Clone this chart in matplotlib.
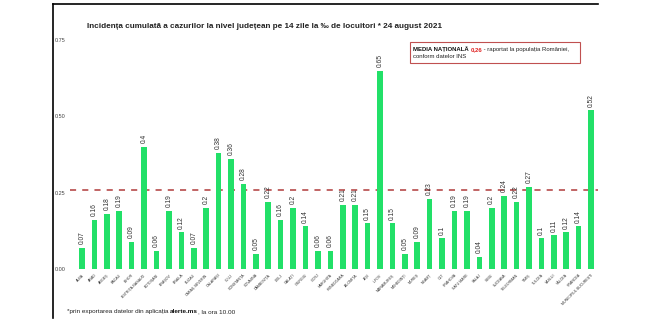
import matplotlib.pyplot as plt
import numpy as np
from matplotlib.lines import Line2D
from matplotlib.patches import Rectangle

counties = ['ALBA', 'ARAD', 'ARGEȘ', 'BACĂU', 'BIHOR', 'BISTRIȚA-NĂSĂUD', 'BOTOȘANI',
            'BRAȘOV', 'BRĂILA', 'BUZĂU', 'CARAȘ-SEVERIN', 'CĂLĂRAȘI', 'CLUJ', 'CONSTANȚA',
            'COVASNA', 'DÂMBOVIȚA', 'DOLJ', 'GALAȚI', 'GIURGIU', 'GORJ', 'HARGHITA',
            'HUNEDOARA', 'IALOMIȚA', 'IAȘI', 'ILFOV', 'MARAMUREȘ', 'MEHEDINȚI', 'MUREȘ',
            'NEAMȚ', 'OLT', 'PRAHOVA', 'SATU MARE', 'SĂLAJ', 'SIBIU', 'SUCEAVA',
            'TELEORMAN', 'TIMIȘ', 'TULCEA', 'VASLUI', 'VÂLCEA', 'VRANCEA',
            'MUNICIPIUL BUCUREȘTI']
incidence = [0.07, 0.16, 0.18, 0.19, 0.09, 0.4, 0.06,
             0.19, 0.12, 0.07, 0.2, 0.38, 0.36, 0.28,
             0.05, 0.22, 0.16, 0.2, 0.14, 0.06, 0.06,
             0.21, 0.21, 0.15, 0.65, 0.15, 0.05, 0.09,
             0.23, 0.1, 0.19, 0.19, 0.04, 0.2, 0.24,
             0.22, 0.27, 0.1, 0.11, 0.12, 0.14,
             0.52]
media_nationala = 0.26
yticks = [0.0, 0.25, 0.5, 0.75]

W, H = 659, 334
FONT = 'Liberation Sans'
fig = plt.figure(figsize=(6.59, 3.34), dpi=100)
fig.patch.set_facecolor('white')

# axes placed in pixel terms of the reference
ax = fig.add_axes([70 / W, 65 / H, (598 - 70) / W, (294 - 65) / H])
x = np.arange(len(counties))
ax.bar(x, incidence, width=0.45, color='#22e068', zorder=2)

for xi, v in zip(x, incidence):
    ax.text(xi, v + 0.012, f'{v:g}', rotation=90, ha='center', va='bottom',
            fontsize=4.8, color='#333333', family=FONT, zorder=3)

ax.axhline(media_nationala, color='#b03a3a', lw=1.1, ls=(0, (4, 4)), zorder=1)

ax.set_xlim(-0.97, 41.56)
ax.set_ylim(0, 0.75)
ax.set_yticks(yticks)
ax.set_yticklabels([f'{t:.2f}' for t in yticks], fontsize=4, color='#444444', family=FONT)
ax.set_xticks(x)
ax.set_xticklabels(counties, rotation=45, ha='right', rotation_mode='anchor',
                   fontsize=2.6, color='#333333', family=FONT)
ax.tick_params(length=0, pad=3)
for s in ax.spines.values():
    s.set_visible(False)

fig.text(87 / W, 1 - 27 / H,
         'Incidența cumulată a cazurilor la nivel județean pe 14 zile la ‰ de locuitori * 24 august 2021',
         fontsize=5.9, fontweight='bold', color='#222222', va='center', ha='left', family=FONT)


def run_text(x0, y0, parts, size):
    # write several text pieces one after the other on a shared baseline
    r = fig.canvas.get_renderer()
    xp = x0
    for s, bold, col in parts:
        t = fig.text(xp, y0, s, fontsize=size, fontweight='bold' if bold else 'normal',
                     color=col, va='baseline', family=FONT)
        xp = t.get_window_extent(renderer=r).x1 / W


fig.canvas.draw()

# national average box
fig.patches.append(Rectangle((410 / W, 1 - 63 / H), 170 / W, 21 / H, transform=fig.transFigure,
                             facecolor='white', edgecolor='#c05050', lw=0.8))
run_text(413 / W, 1 - 51 / H, [('MEDIA NAȚIONALĂ ', True, '#111111'),
                               ('0,26', True, '#e02020'),
                               (' - raportat la populația României,', False, '#222222')], 4.3)
run_text(413 / W, 1 - 58.5 / H, [('conform datelor INS', False, '#222222')], 4.3)

# footnote
run_text(67 / W, 1 - 313 / H, [('*prin exportarea datelor din aplicația ', False, '#222222'),
                               ('alerte.ms', True, '#111111'),
                               (', la ora 10.00', False, '#222222')], 4.6)

# frame lines of the original slide
fig.add_artist(Line2D([53 / W, 598 / W], [1 - 4 / H, 1 - 4 / H], color='black', lw=1.2))
fig.add_artist(Line2D([53 / W, 53 / W], [1 - 4 / H, 1 - 318 / H], color='black', lw=1.2))

fig.savefig('out.png', dpi=100)
